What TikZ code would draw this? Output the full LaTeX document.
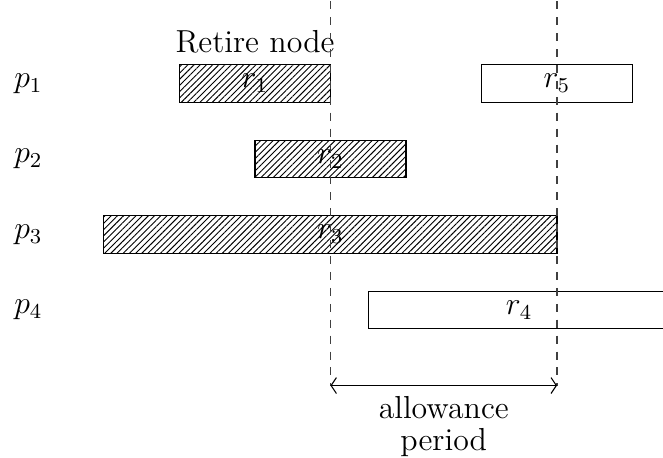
\documentclass[tikz,border=0pt,12pt]{standalone}
\usetikzlibrary{patterns.meta,arrows.meta}

\tikzset{
  task/.style={draw, line width=0.4pt},
  retired/.style={task, pattern={Lines[angle=45, distance=1.65pt, line width=0.35pt]}},
  active/.style={task, fill=white},
  cut/.style={dashed, line width=0.4pt, black!75},
  proc/.style={inner sep=0pt},
  span/.style={{Straight Barb[length=2pt,width=6pt]}-{Straight Barb[length=2pt,width=6pt]}, line width=0.4pt}
}

\begin{document}
\begin{tikzpicture}
  % page frame
  \clip (-1.377,-4.947) rectangle (7.404,1.106);

  % processor labels
  \node[proc] (p1) at (-1, 0) {$p_1$};
  \node[proc] (p2) at (-1,-1) {$p_2$};
  \node[proc] (p3) at (-1,-2) {$p_3$};
  \node[proc] (p4) at (-1,-3) {$p_4$};

  % requests: hatched ones are retired, white ones still running
  \draw[retired] (1,-0.25) rectangle (3,0.25);
  \draw[retired] (2,-1.25) rectangle (4,-0.75);
  \draw[retired] (0,-2.25) rectangle (6,-1.75);
  \draw[active]  (3.5,-3.25) rectangle (7.5,-2.75);
  \draw[active]  (5,-0.25) rectangle (7,0.25);

  \node (r1) at (2,0)    {$r_1$};
  \node (r2) at (3,-1)   {$r_2$};
  \node (r3) at (3,-2)   {$r_3$};
  \node (r4) at (5.5,-3) {$r_4$};
  \node (r5) at (6,0)    {$r_5$};

  \node[above] (retire) at (2,0.25) {Retire node};

  % boundaries of the allowance period
  \coordinate (a0) at (3,-4);
  \coordinate (a1) at (6,-4);
  \coordinate (t0) at (3,1.3);
  \coordinate (t1) at (6,1.3);
  \draw[cut] (t0) -- (a0);
  \draw[cut] (t1) -- (a1);

  \draw[span] (a0) -- (a1);
  \node[below, align=center, font=\fontsize{12}{12.1}\selectfont] (ap) at (4.5,-4) {allowance\\period};
\end{tikzpicture}
\end{document}
